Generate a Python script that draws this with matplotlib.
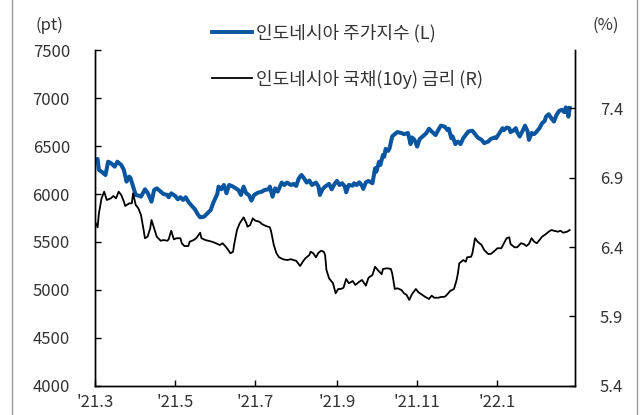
import numpy as np
import pandas as pd
import matplotlib
matplotlib.use('Agg')
import matplotlib.pyplot as plt
import matplotlib.dates as mdates
from matplotlib.lines import Line2D

plt.rcParams['font.family'] = ['Noto Sans CJK KR', 'DejaVu Sans']

start = pd.Timestamp('2021-03-01')

# stock index (L): days since 2021-03-01, level in pt
stock_days = [0, 2, 3, 5, 8, 10, 12, 15, 17, 20, 22, 24, 26, 27, 29, 31, 34, 35, 38, 40,
              43, 45, 47, 50, 52, 55, 56, 58, 61, 63, 65, 67, 69, 71, 73, 76, 78, 80, 83, 85,
              88, 90, 93, 94, 96, 98, 100, 102, 105, 107, 109, 111, 113, 115, 117, 119, 121, 124, 127, 129,
              132, 133, 135, 137, 139, 142, 144, 146, 149, 151, 153, 155, 157, 159, 161, 163, 165, 168, 170, 171,
              173, 175, 178, 180, 182, 184, 186, 188, 190, 191, 193, 196, 197, 199, 201, 203, 204, 206, 208, 211,
              213, 214, 216, 217, 219, 220, 221, 223, 224, 226, 228, 230, 233, 235, 238, 240, 241, 243, 245, 247,
              250, 252, 254, 256, 259, 261, 263, 266, 268, 269, 271, 272, 274, 276, 278, 280, 282, 284, 287, 289,
              291, 294, 296, 299, 301, 304, 305, 308, 310, 311, 313, 315, 316, 318, 320, 321, 323, 325, 327, 329,
              330, 332, 334, 336, 338, 340, 342, 343, 345, 347, 349, 351, 353, 355, 357, 358, 359, 360, 361]
stock = [6349, 6365, 6250, 6233, 6198, 6337, 6323, 6285, 6337, 6302, 6250, 6129, 6181, 6167, 6077, 5990, 5980, 5972, 6049, 6014,
         5920, 6042, 6059, 6025, 6000, 5990, 5966, 6007, 5980, 5945, 5966, 5938, 5966, 5920, 5886, 5841, 5792, 5757, 5764, 5792,
         5833, 5910, 6000, 6077, 6049, 6094, 6007, 6094, 6077, 6059, 6042, 5990, 6077, 6007, 5990, 5931, 5990, 6014, 6025, 6042,
         6049, 6077, 5972, 6059, 6025, 6119, 6094, 6119, 6094, 6105, 6084, 6163, 6198, 6163, 6119, 6140, 6094, 6119, 6077, 5990,
         6049, 6077, 6105, 6049, 6100, 6136, 6094, 6112, 6077, 6018, 6094, 6087, 6112, 6094, 6122, 6087, 6053, 6122, 6136, 6112,
         6268, 6233, 6337, 6302, 6407, 6389, 6470, 6449, 6477, 6599, 6624, 6645, 6635, 6624, 6635, 6520, 6589, 6564, 6494, 6574,
         6609, 6635, 6680, 6652, 6614, 6666, 6712, 6701, 6666, 6680, 6581, 6599, 6520, 6546, 6520, 6581, 6616, 6652, 6659, 6624,
         6589, 6564, 6530, 6546, 6574, 6589, 6581, 6645, 6686, 6666, 6691, 6686, 6645, 6659, 6686, 6645, 6599, 6652, 6712, 6652,
         6564, 6635, 6624, 6652, 6686, 6738, 6761, 6806, 6831, 6790, 6755, 6824, 6866, 6876, 6852, 6902, 6887, 6806, 6896]

# 10y government bond yield (R): days since 2021-03-01, %
bond_days = [0, 2, 3, 5, 7, 9, 12, 14, 16, 18, 20, 22, 23, 26, 28, 29, 31, 33, 35, 37,
             38, 40, 42, 43, 45, 47, 50, 52, 55, 56, 58, 60, 62, 65, 66, 68, 71, 72, 75, 77,
             80, 81, 84, 86, 89, 92, 95, 97, 99, 101, 103, 105, 106, 108, 110, 113, 115, 116, 118, 120,
             122, 125, 127, 130, 133, 134, 136, 138, 140, 143, 146, 149, 151, 153, 156, 158, 160, 163, 164, 166,
             168, 170, 172, 174, 175, 176, 178, 181, 183, 185, 187, 189, 191, 193, 196, 198, 201, 203, 206, 208,
             211, 213, 215, 218, 219, 222, 225, 226, 228, 230, 233, 235, 237, 239, 241, 244, 246, 249, 251, 254,
             256, 258, 261, 263, 266, 268, 270, 273, 275, 276, 277, 280, 282, 283, 286, 287, 289, 291, 294, 296,
             299, 301, 304, 306, 309, 311, 313, 315, 316, 319, 321, 324, 326, 328, 330, 332, 334, 336, 338, 340,
             343, 345, 347, 349, 352, 354, 356, 359, 361]
bond = [6.582, 6.542, 6.642, 6.750, 6.798, 6.738, 6.750, 6.767, 6.750, 6.798, 6.774, 6.726, 6.695, 6.714, 6.714, 6.786, 6.702, 6.678, 6.630, 6.522,
        6.463, 6.474, 6.534, 6.594, 6.534, 6.474, 6.445, 6.450, 6.445, 6.455, 6.517, 6.455, 6.463, 6.463, 6.427, 6.407, 6.407, 6.438, 6.450, 6.463,
        6.503, 6.463, 6.450, 6.445, 6.438, 6.427, 6.414, 6.427, 6.407, 6.383, 6.355, 6.366, 6.427, 6.522, 6.570, 6.613, 6.575, 6.546, 6.558, 6.606,
        6.589, 6.582, 6.565, 6.551, 6.542, 6.510, 6.414, 6.355, 6.326, 6.312, 6.306, 6.312, 6.306, 6.301, 6.263, 6.294, 6.319, 6.342, 6.366, 6.355,
        6.326, 6.359, 6.373, 6.366, 6.342, 6.235, 6.175, 6.139, 6.067, 6.098, 6.098, 6.107, 6.170, 6.139, 6.155, 6.127, 6.150, 6.163, 6.122, 6.179,
        6.199, 6.258, 6.235, 6.204, 6.242, 6.247, 6.242, 6.211, 6.098, 6.103, 6.091, 6.067, 6.055, 6.019, 6.060, 6.098, 6.074, 6.055, 6.042, 6.026,
        6.050, 6.035, 6.035, 6.040, 6.042, 6.060, 6.083, 6.098, 6.163, 6.210, 6.282, 6.306, 6.294, 6.326, 6.330, 6.355, 6.463, 6.438, 6.414, 6.378,
        6.350, 6.350, 6.373, 6.391, 6.391, 6.427, 6.463, 6.470, 6.422, 6.398, 6.398, 6.427, 6.422, 6.407, 6.422, 6.463, 6.438, 6.427, 6.450, 6.474,
        6.494, 6.510, 6.522, 6.517, 6.510, 6.517, 6.503, 6.510, 6.522]

tick_dates = ['2021-03-01', '2021-05-01', '2021-07-01', '2021-09-01', '2021-11-01', '2022-01-01']
tick_labels = ["'21.3", "'21.5", "'21.7", "'21.9", "'21.11", "'22.1"]

stock_x = start + pd.to_timedelta(stock_days, unit='D')
bond_x = start + pd.to_timedelta(bond_days, unit='D')

fig = plt.figure(figsize=(6.43, 4.15), dpi=100)
ax = fig.add_axes([0.1477, 0.0699, 0.7465, 0.8096])
ax2 = ax.twinx()

blue = '#0a55a0'
ax.plot(stock_x, stock, color=blue, lw=2.9, solid_joinstyle='round')
ax2.plot(bond_x, bond, color='black', lw=1.3)

ax.set_xlim(start, pd.Timestamp('2022-03-01'))
ax.set_ylim(4000, 7500)
ax.set_yticks(np.arange(4000, 7501, 500))
ax2.set_ylim(5.4, 5.4 + 3500 / 1500 * 1.036)
ax2.set_yticks([5.4, 5.9, 6.4, 6.9, 7.4])
ax2.set_yticklabels(['5.4', '5.9', '6.4', '6.9', '7.4'])
ax.set_xticks(pd.to_datetime(tick_dates))
ax.set_xticklabels(tick_labels)

tc = '#333333'
for a in (ax, ax2):
    a.spines['top'].set_visible(False)
    for s in a.spines.values():
        s.set_linewidth(1.0)
    a.tick_params(direction='in', length=4, width=1, labelsize=12, colors='black', labelcolor=tc)
ax.tick_params(axis='y', pad=18)
ax2.tick_params(axis='y', pad=18)
ax.tick_params(axis='x', pad=6)

fig.text(0.055, 0.94, '(pt)', fontsize=12, color=tc, ha='left', va='center')
fig.text(0.922, 0.94, '(%)', fontsize=12, color=tc, ha='left', va='center')

handles = [Line2D([], [], color=blue, lw=2.8), Line2D([], [], color='black', lw=1.3)]
labels = ['인도네시아 주가지수 (L)', '인도네시아 국채(10y) 금리 (R)']
fig.legend(handles, labels, loc='upper left', bbox_to_anchor=(0.322, 0.955), frameon=False,
           fontsize=13, handlelength=2.2, handletextpad=0.2, labelspacing=1.5,
           labelcolor=tc, borderaxespad=0, borderpad=0.3)

# outer frame lines
fig.add_artist(Line2D([12 / 643, 12 / 643], [0, 1], color='#999999', lw=1, transform=fig.transFigure))
fig.add_artist(Line2D([637 / 643, 637 / 643], [0, 1], color='#999999', lw=1, transform=fig.transFigure))

fig.savefig('out.png', dpi=100)
